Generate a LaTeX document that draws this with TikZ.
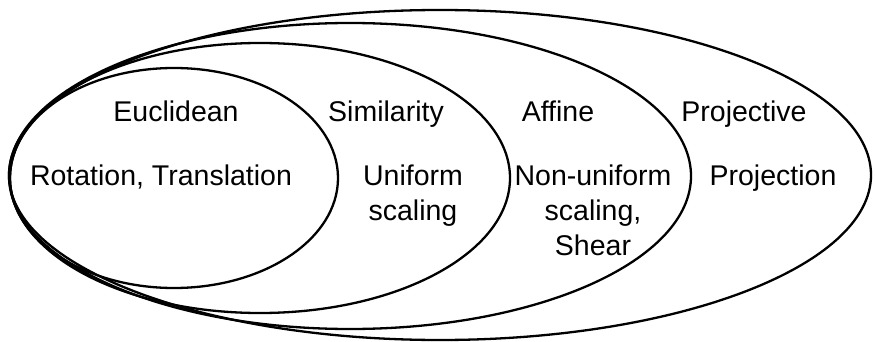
\documentclass[tikz,border=0pt]{standalone}
\usepackage{fontspec}
\setmainfont{Liberation Sans}
\begin{document}
\begin{tikzpicture}[x=1pt,y=-1pt,
  ring/.style={draw=black,line width=2.3pt},
  lbl/.style={font=\fontsize{28.5}{35}\selectfont,align=center,inner sep=0pt,anchor=base}]
\useasboundingbox (0,0) rectangle (875,342);
\draw[ring] (440,175) ellipse [x radius=431,y radius=165];
\draw[ring] (350,176) ellipse [x radius=341,y radius=153];
\draw[ring] (260,178) ellipse [x radius=250,y radius=135];
\draw[ring] (174,178) ellipse [x radius=164,y radius=110];
\node[lbl] (euc) at (176,122) {Euclidean};
\node[lbl] (rot) at (161,185) {Rotation, Translation};
\node[lbl] (sim) at (386,122) {Similarity};
\node[lbl] (uni) at (413,220) {Uniform\\scaling};
\node[lbl] (aff) at (558,122) {Affine};
\node[lbl] (non) at (593,255) {Non-uniform\\scaling,\\Shear};
\node[lbl] (pro) at (744,122) {Projective};
\node[lbl] (prn) at (773,185) {Projection};
\end{tikzpicture}
\end{document}
